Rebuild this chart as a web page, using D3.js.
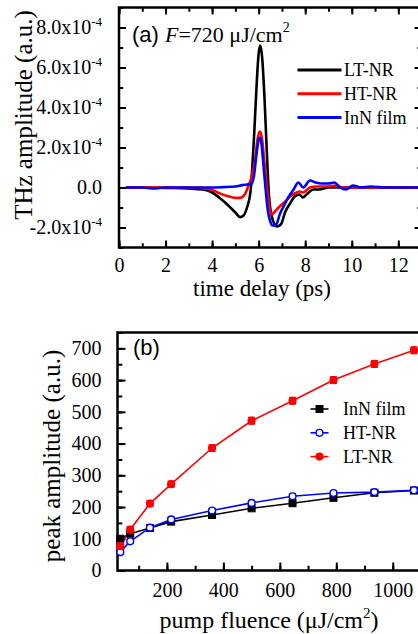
<!DOCTYPE html>
<html>
<head>
<meta charset="utf-8">
<script src="https://cdn.jsdelivr.net/npm/d3@7"></script>
<style>
body { margin: 0; background: #fff; }
svg { display: block; }
text { font-family: "Liberation Serif", "Times New Roman", serif; fill: #000; }
</style>
</head>
<body>
<div id="viz"></div>
<script>
// ---- panel (a) data: THz waveforms, amplitude in units of 1e-4 ----
var ltTime = [0.3, 1, 2, 3, 3.6, 4.0, 4.3, 4.65, 5.0, 5.2, 5.35, 5.5, 5.65, 5.8, 5.92, 6.0, 6.07, 6.15, 6.25, 6.35, 6.45, 6.6, 6.78, 6.95, 7.15, 7.35, 7.55, 7.75, 7.9, 8.1, 8.35, 8.6, 9.0, 9.5, 10, 11, 12, 13];
var ltAmp  = [0, 0, -0.02, -0.05, -0.1, -0.25, -0.5, -0.85, -1.25, -1.48, -1.4, -1.0, -0.2, 2.5, 5.3, 6.7, 7.1, 6.5, 4.5, 1.8, -0.5, -1.6, -1.95, -1.85, -1.2, -0.8, -0.45, -0.35, -0.5, -0.3, -0.1, -0.1, 0, 0, 0, 0, 0, 0];

var htTime = [0.3, 1, 2, 3, 3.6, 4.0, 4.3, 4.65, 5.0, 5.2, 5.4, 5.55, 5.7, 5.85, 5.95, 6.05, 6.15, 6.25, 6.35, 6.45, 6.55, 6.7, 6.9, 7.1, 7.35, 7.55, 7.75, 7.92, 8.2, 8.5, 9.0, 9.3, 9.6, 10, 11, 12, 13];
var htAmp  = [0, 0, 0, 0, -0.03, -0.12, -0.28, -0.42, -0.52, -0.52, -0.35, 0.05, 0.55, 1.4, 2.4, 2.8, 2.4, 1.2, 0.1, -0.9, -1.35, -1.2, -0.95, -0.75, -0.45, -0.3, -0.2, -0.25, 0.0, 0.05, 0.05, 0.1, 0, 0, 0, 0, 0];

var filmTime = [0.3, 1, 1.5, 2, 3, 4, 4.5, 5.0, 5.3, 5.5, 5.7, 5.8, 5.9, 6.0, 6.05, 6.12, 6.2, 6.3, 6.4, 6.5, 6.6, 6.75, 6.92, 7.05, 7.2, 7.35, 7.5, 7.7, 7.92, 8.2, 8.45, 8.7, 9.0, 9.25, 9.5, 9.75, 10.05, 10.4, 10.8, 11.5, 12, 13];
var filmAmp  = [0, 0, -0.05, 0, 0, 0, 0.02, 0.05, 0.12, 0.15, 0.2, 0.6, 1.6, 2.4, 2.5, 2.2, 1.2, -0.1, -1.2, -1.7, -1.9, -1.85, -1.3, -1.0, -0.65, -0.35, -0.1, 0.25, 0.0, 0.35, 0.25, 0.2, 0.2, 0.25, 0.0, -0.1, 0.1, 0.0, 0.05, 0, 0, 0];

var waveNames = ["LT-NR", "HT-NR", "InN film"];
var waveColors = ["#000000", "#ff0000", "#0000ff"];

var yTicksA = [-2e-4, 0, 2e-4, 4e-4, 6e-4, 8e-4];
var xTicksA = [0, 2, 4, 6, 8, 10, 12];

// ---- panel (b) data: peak amplitude vs pump fluence ----
var fluence  = [35, 70, 140, 215, 360, 500, 645, 790, 935, 1075];
var filmPeak = [100, 116, 134, 154, 175, 196, 212, 229, 245, 252];
var htPeak   = [58, 92, 135, 161, 189, 213, 234, 244, 247, 253];
var ltPeak   = [77, 129, 211, 272, 386, 472, 535, 600, 651, 694];
var filmErr  = [6, 6, 6, 6, 6, 6, 6, 6, 6, 6];
var htErr    = [6, 6, 6, 6, 6, 6, 6, 6, 6, 6];
var ltErr    = [9, 9, 9, 9, 10, 10, 10, 10, 10, 10];

var peakNames = ["InN film", "HT-NR", "LT-NR"];
var yTicksB = [0, 100, 200, 300, 400, 500, 600, 700];
var xTicksB = [200, 400, 600, 800, 1000];

var svg = d3.select("#viz").append("svg").attr("width", 418).attr("height", 634);

function drawAxis(g, axis, scale, major, minor, len, fmt, pad, tr) {
	var gm = g.append("g").attr("transform", tr)
		.call(axis(scale).tickValues(minor).tickSizeInner(-len * 0.6).tickSizeOuter(0).tickFormat(""));
	var gM = g.append("g").attr("transform", tr)
		.call(axis(scale).tickValues(major).tickSizeInner(-len).tickSizeOuter(0).tickPadding(pad).tickFormat(fmt));
	[gm, gM].forEach(function(a){
		a.attr("font-family", null);
		a.select(".domain").remove();
		a.selectAll("line").attr("stroke", "#000").attr("stroke-width", 2);
		a.selectAll("text").style("font-family", '"Liberation Serif", "Times New Roman", serif').style("font-size", "20px").attr("fill", "#000");
	});
	return gM;
}

// ================= panel (a) =================
var xa = d3.scaleLinear().domain([0, 13]).range([119, 421.6]);
var ya = d3.scaleLinear().domain([-3e-4, 9e-4]).range([247.5, 7.5]);
var ga = svg.append("g");

var minorXA = d3.range(0, 14, 1);
var minorYA = d3.range(-3e-4, 9.01e-4, 1e-4);
drawAxis(ga, d3.axisBottom, xa, xTicksA, minorXA, 7, d3.format("d"), 10, "translate(0,247.5)");
drawAxis(ga, d3.axisTop, xa, xTicksA, minorXA, 7, "", 0, "translate(0,7.5)");
var yAxA = drawAxis(ga, d3.axisLeft, ya, yTicksA, minorYA, 7, function(){ return ""; }, 17, "translate(119,0)");
drawAxis(ga, d3.axisRight, ya, yTicksA, minorYA, 7, "", 0, "translate(421.6,0)");

yAxA.selectAll(".tick text").each(function(d){
	var t = d3.select(this);
	if (Math.abs(d) < 1e-12) { t.text("0.0"); return; }
	var m = d / 1e-4;
	t.append("tspan").text(m.toFixed(1) + "x10");
	t.append("tspan").attr("dy", -8).style("font-size", "13px").text("-4");
});

ga.append("rect").attr("x", 119).attr("y", 7.5).attr("width", 302.6).attr("height", 240)
	.attr("fill", "none").attr("stroke", "#000").attr("stroke-width", 2.5);

var waves = [
	{ t: ltTime, v: ltAmp },
	{ t: htTime, v: htAmp },
	{ t: filmTime, v: filmAmp }
];
var lineA = d3.line().curve(d3.curveMonotoneX)
	.x(function(d){ return xa(d[0]); })
	.y(function(d){ return ya(d[1] * 1e-4); });

waves.forEach(function(w, i){
	ga.append("path")
		.datum(d3.zip(w.t, w.v))
		.attr("d", lineA)
		.attr("fill", "none")
		.attr("stroke", waveColors[i])
		.attr("stroke-width", 2.6)
		.attr("stroke-linejoin", "round");
});

// legend (a)
waveNames.forEach(function(n, i){
	var y = 70 + i * 23.7;
	ga.append("line").attr("x1", 297.5).attr("x2", 341.5).attr("y1", y).attr("y2", y)
		.attr("stroke", waveColors[i]).attr("stroke-width", 3);
	ga.append("text").attr("x", 344).attr("y", y).attr("dy", "0.35em")
		.style("font-size", "18px").text(n);
});

var la = ga.append("text").attr("x", 132).attr("y", 42).style("font-size", "22px");
la.append("tspan").style("font-family", '"Liberation Sans", Arial, sans-serif').text("(a) ");
la.append("tspan").style("font-style", "italic").text("F");
la.append("tspan").text("=720 \u03bcJ/cm");
la.append("tspan").attr("dy", -10).style("font-size", "14px").text("2");

ga.append("text").attr("transform", "translate(32,115) rotate(-90)")
	.attr("text-anchor", "middle").style("font-size", "25px").text("THz amplitude (a.u.)");
ga.append("text").attr("x", 262).attr("y", 296)
	.attr("text-anchor", "middle").style("font-size", "23px").text("time delay (ps)");

// ================= panel (b) =================
var xb = d3.scaleLinear().domain([25, 1100]).range([117.5, 421]);
var yb = d3.scaleLinear().domain([0, 750]).range([570.5, 332.5]);
var gb = svg.append("g");

drawAxis(gb, d3.axisBottom, xb, xTicksB, d3.range(100, 1101, 100), 8, d3.format("d"), 12, "translate(0,570.5)");
drawAxis(gb, d3.axisLeft, yb, yTicksB, d3.range(0, 751, 50), 8, d3.format("d"), 16, "translate(117.5,0)");

gb.append("rect").attr("x", 117.5).attr("y", 332.5).attr("width", 303.5).attr("height", 238)
	.attr("fill", "none").attr("stroke", "#000").attr("stroke-width", 2.5);

var peaks = [
	{ v: filmPeak, e: filmErr, color: "#000000", shape: "square", fill: "#000000" },
	{ v: htPeak, e: htErr, color: "#0000ff", shape: "circle", fill: "#ffffff" },
	{ v: ltPeak, e: ltErr, color: "#ff0000", shape: "circle", fill: "#ff0000" }
];

function marker(g, x, y, p) {
	if (p.shape === "square") {
		g.append("rect").attr("x", x - 3.5).attr("y", y - 3.5).attr("width", 7).attr("height", 7)
			.attr("fill", p.fill).attr("stroke", p.color).attr("stroke-width", 1);
	} else {
		g.append("circle").attr("cx", x).attr("cy", y).attr("r", 3.4)
			.attr("fill", p.fill).attr("stroke", p.color).attr("stroke-width", 1.4);
	}
}

var lineB = d3.line()
	.x(function(d){ return xb(d[0]); })
	.y(function(d){ return yb(d[1]); });

peaks.forEach(function(p){
	gb.append("path").datum(d3.zip(fluence, p.v)).attr("d", lineB)
		.attr("fill", "none").attr("stroke", p.color).attr("stroke-width", 1.6);
});
peaks.forEach(function(p){
	fluence.forEach(function(f, j){
		var x = xb(f), y0 = yb(p.v[j] - p.e[j]), y1 = yb(p.v[j] + p.e[j]);
		gb.append("line").attr("x1", x).attr("x2", x).attr("y1", y0).attr("y2", y1)
			.attr("stroke", p.color).attr("stroke-width", 1.4);
		[y0, y1].forEach(function(yy){
			gb.append("line").attr("x1", x - 3.5).attr("x2", x + 3.5).attr("y1", yy).attr("y2", yy)
				.attr("stroke", p.color).attr("stroke-width", 1.6);
		});
		marker(gb, x, yb(p.v[j]), p);
	});
});

// legend (b)
peakNames.forEach(function(n, i){
	var y = 409 + i * 23.8;
	var p = peaks[i];
	gb.append("line").attr("x1", 310.5).attr("x2", 328.5).attr("y1", y).attr("y2", y)
		.attr("stroke", p.color).attr("stroke-width", 1.6);
	marker(gb, 319.5, y, p);
	gb.append("text").attr("x", 343).attr("y", y).attr("dy", "0.35em")
		.style("font-size", "18px").text(n);
});

gb.append("text").attr("x", 133).attr("y", 355)
	.style("font-family", '"Liberation Sans", Arial, sans-serif').style("font-size", "22px").text("(b)");

gb.append("text").attr("transform", "translate(60,456) rotate(-90)")
	.attr("text-anchor", "middle").style("font-size", "25px").text("peak amplitude (a.u.)");

var lb = gb.append("text").attr("x", 269).attr("y", 628).attr("text-anchor", "middle").style("font-size", "24px");
lb.append("tspan").text("pump fluence (\u03bcJ/cm");
lb.append("tspan").attr("dy", -10).style("font-size", "15px").text("2");
lb.append("tspan").attr("dy", 10).text(")");
</script>
</body>
</html>
